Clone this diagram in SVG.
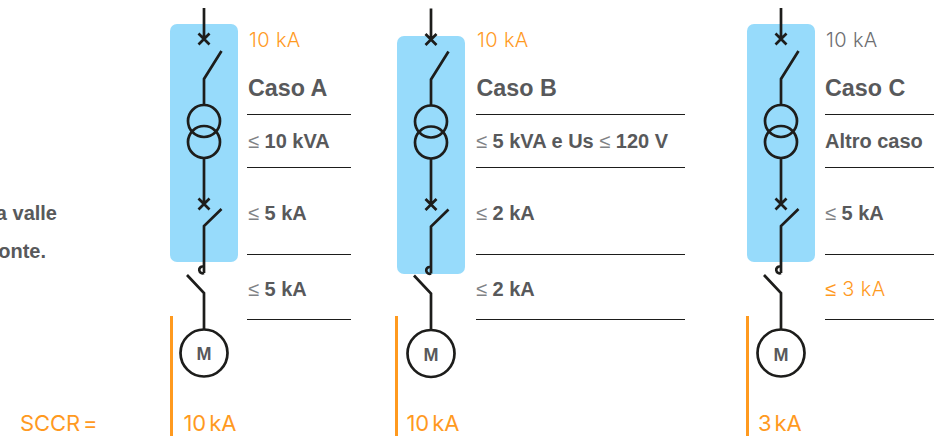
<svg xmlns="http://www.w3.org/2000/svg" width="934" height="436" viewBox="0 0 934 436">
<style>
text{font-family:"Liberation Sans",Arial,sans-serif;font-size:20px;font-weight:700;fill:#58595b}
.h{font-size:23.300px}
.le{font-weight:400;fill:#808285}
.li{font-family:Inter,"Liberation Sans",sans-serif;font-weight:300;font-size:20px;letter-spacing:.35px;fill:#6d6e71}
.o{fill:#ff9a1f}
.t{font-family:Inter,"Liberation Sans",sans-serif;font-weight:400;font-size:22px;fill:#ff9a1f;letter-spacing:-.1px;word-spacing:-3px}
.m{font-size:18px;text-anchor:middle}
.w{fill:none;stroke:#1d1d1b;stroke-width:2.700}
.l{stroke:#1d1d1b;stroke-width:1.200}
.ob{stroke:#ff9a1f;stroke-width:3}
.bg{fill:#97dbfb}
</style>
<defs>
<g id="sym">
<path class="w" d="M0-31V0M-5.500-5.500 5.500 5.500M5.500-5.500-5.500 5.500M17.500 12 0 40V66"/>
<circle class="w" cx="0" cy="82" r="16"/><circle class="w" cx="0" cy="103" r="16"/>
<path class="w" d="M0 119V165M-5.500 159.500 5.500 170.500M5.500 159.500-5.500 170.500M17.500 170 0 187V234"/>
<path class="w" d="M0 234A3.400 3.400 0 1 1 -1 227.500"/>
<path class="w" d="M-17 236 0 254V290"/>
<circle class="w" cx="0" cy="314" r="23.500"/>
</g>
</defs>
<g id="note">
<text x="57" y="220" text-anchor="end">a valle</text>
<text x="46" y="257.500" text-anchor="end">onte.</text>
<text class="t" x="20" y="431">SCCR =</text>
</g>
<g id="caso-a">
<rect class="bg" x="170" y="24" width="68" height="238" rx="7"/>
<use href="#sym" x="204" y="39"/>
<text class="m" x="204" y="360">M</text>
<text class="li o" x="249" y="47">10 kA</text>
<text class="h" x="248" y="96">Caso A</text>
<text x="248" y="148"><tspan class="le">≤</tspan> 10 kVA</text>
<text x="248" y="220"><tspan class="le">≤</tspan> 5 kA</text>
<text x="248" y="296"><tspan class="le">≤</tspan> 5 kA</text>
<path class="l" d="M247 114.500H351M247 167.500H351M247 254.500H351M247 319.500H351"/>
<path class="ob" d="M171.500 316V436"/>
<text class="t" x="183.500" y="431">10 kA</text>
</g>
<g id="caso-b">
<rect class="bg" x="397" y="36" width="68" height="238" rx="7"/>
<use href="#sym" x="431" y="39.500"/>
<text class="m" x="431" y="360.500">M</text>
<text class="li o" x="477" y="47">10 kA</text>
<text class="h" x="476.500" y="96">Caso B</text>
<text x="476" y="148"><tspan class="le">≤</tspan> 5 kVA e Us <tspan class="le">≤</tspan> 120 V</text>
<text x="476" y="220"><tspan class="le">≤</tspan> 2 kA</text>
<text x="476" y="296"><tspan class="le">≤</tspan> 2 kA</text>
<path class="l" d="M476 114.500H685M476 167.500H685M476 254.500H685M476 319.500H685"/>
<path class="ob" d="M396.500 316V436"/>
<text class="t" x="406.500" y="431">10 kA</text>
</g>
<g id="caso-c">
<rect class="bg" x="747" y="24" width="68" height="238" rx="7"/>
<use href="#sym" x="781" y="39"/>
<text class="m" x="781" y="360.500">M</text>
<text class="li" x="826" y="47">10 kA</text>
<text class="h" x="825" y="96">Caso C</text>
<text x="825" y="148">Altro caso</text>
<text x="825" y="220"><tspan class="le">≤</tspan> 5 kA</text>
<text class="li o" x="825" y="296"><tspan style="font-family:'Liberation Sans'">≤</tspan> 3 kA</text>
<path class="l" d="M825 114.500H934M825 167.500H934M825 254.500H934M825 319.500H934"/>
<path class="ob" d="M747.500 316V436"/>
<text class="t" x="758" y="431">3 kA</text>
</g>
</svg>
